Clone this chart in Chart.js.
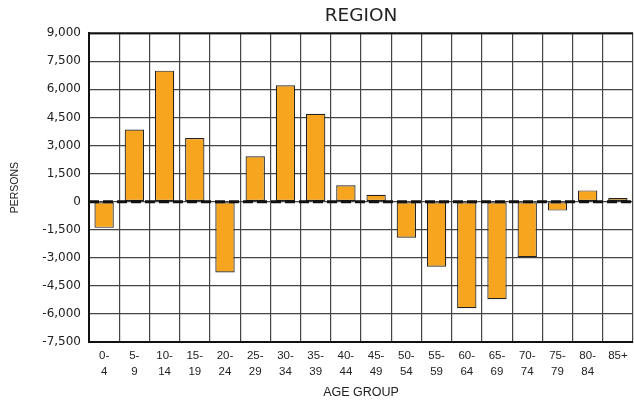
<!DOCTYPE html>
<html>
<head>
<meta charset="utf-8">
<script src="https://cdn.jsdelivr.net/npm/chart.js@4/dist/chart.umd.min.js"></script>
<style>
  html, body { margin: 0; padding: 0; background: #fff; }
  #wrap { width: 634px; height: 402px; }
</style>
</head>
<body>
<div id="wrap"><canvas id="c" width="634" height="402"></canvas></div>
<script>
// Age groups (two-line tick labels) and net change in persons per group
const ageGroups = [
  ['0-', '4'], ['5-', '9'], ['10-', '14'], ['15-', '19'], ['20-', '24'],
  ['25-', '29'], ['30-', '34'], ['35-', '39'], ['40-', '44'], ['45-', '49'],
  ['50-', '54'], ['55-', '59'], ['60-', '64'], ['65-', '69'], ['70-', '74'],
  ['75-', '79'], ['80-', '84'], '85+'
];
const persons = [
  -1400, 3850, 7000, 3400, -3780, 2420, 6220, 4700, 870, 370,
  -1925, -3480, -5690, -5210, -2970, -480, 600, 195
];
const yMin = -7500;
const yMax = 9000;
const yStep = 1500;

const SANS = '"Liberation Sans", Arial, Helvetica, sans-serif';
const WIDE = '"DejaVu Sans", Verdana, sans-serif';

// Dashed baseline at zero over the bars, plus a solid top edge on the plot frame
const zeroLine = {
  id: 'zeroLine',
  afterDatasetsDraw(chart) {
    const { ctx, chartArea, scales } = chart;
    const y = scales.y.getPixelForValue(0);
    ctx.save();
    ctx.strokeStyle = '#111';
    ctx.lineWidth = 2;
    ctx.beginPath();
    ctx.moveTo(chartArea.left, chartArea.top);
    ctx.lineTo(chartArea.right, chartArea.top);
    ctx.stroke();
    ctx.lineWidth = 3;
    ctx.setLineDash([10, 4]);
    ctx.beginPath();
    ctx.moveTo(chartArea.left, y);
    ctx.lineTo(chartArea.right, y);
    ctx.stroke();
    ctx.restore();
  }
};

new Chart(document.getElementById('c'), {
  type: 'bar',
  data: {
    labels: ageGroups,
    datasets: [{
      data: persons,
      backgroundColor: '#F7A51E',
      borderColor: '#222',
      borderWidth: 1.2,
      borderSkipped: false,
      barPercentage: 0.64,
      categoryPercentage: 1.0
    }]
  },
  options: {
    responsive: false,
    animation: false,
    layout: { padding: { top: 0, right: 1, bottom: 0, left: 0 } },
    plugins: {
      legend: { display: false },
      tooltip: { enabled: false },
      title: {
        display: true,
        fullSize: false,
        text: 'REGION',
        color: '#222',
        font: { family: WIDE, size: 18.5, weight: 'normal' },
        padding: { top: 5, bottom: 6 }
      }
    },
    scales: {
      x: {
        grid: { color: '#444', lineWidth: 1.2, drawTicks: false, offset: true },
        border: { display: true, color: '#111', width: 2 },
        ticks: {
          color: '#222',
          font: { family: SANS, size: 11.5, lineHeight: 1.4 },
          padding: 6,
          maxRotation: 0,
          autoSkip: false
        },
        title: {
          display: true,
          text: 'AGE GROUP',
          color: '#222',
          font: { family: SANS, size: 12.5 },
          padding: { top: 4, bottom: 2 }
        },
        afterFit(scale) { scale.height = 60; }
      },
      y: {
        min: yMin,
        max: yMax,
        grid: { color: '#444', lineWidth: 1.2, drawTicks: false },
        border: { display: true, color: '#111', width: 2 },
        ticks: {
          stepSize: yStep,
          color: '#222',
          font: { family: WIDE, size: 12 },
          padding: 8,
          callback: v => v.toLocaleString('en-US')
        },
        title: {
          display: true,
          text: 'PERSONS',
          color: '#222',
          font: { family: SANS, size: 10.5 },
          padding: { top: 9, bottom: 0 }
        },
        afterFit(scale) { scale.width = 89; }
      }
    }
  },
  plugins: [zeroLine]
});
</script>
</body>
</html>
